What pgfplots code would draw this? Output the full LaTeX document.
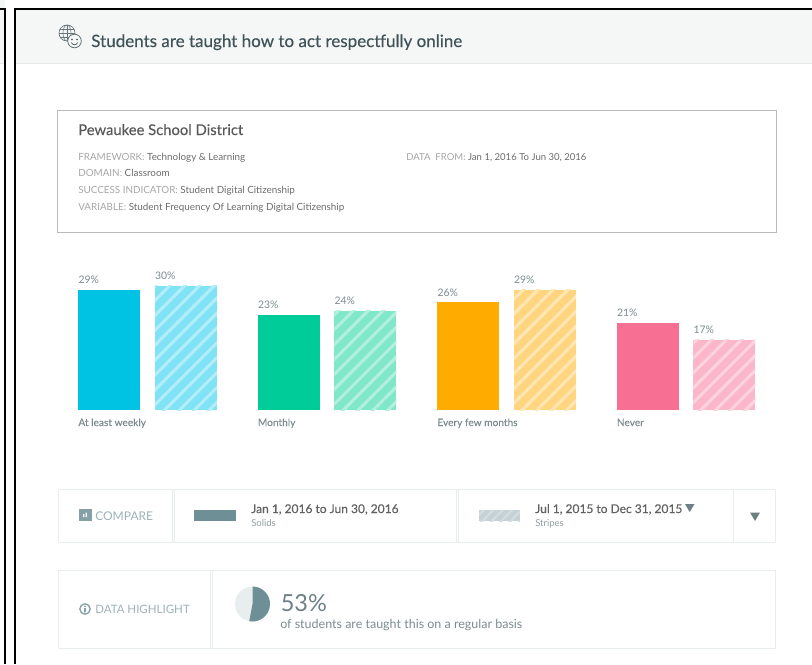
\documentclass[border=0pt]{standalone}
\usepackage{fontspec}
\setmainfont{Lato}
\usepackage{pgfplots}
\pgfplotsset{compat=1.18}
\usetikzlibrary{patterns.meta}

\definecolor{headbg}{HTML}{F4F7F6}
\definecolor{headline}{HTML}{E4E9E8}
\definecolor{frame}{HTML}{E8EEEE}
\definecolor{titlec}{HTML}{3F5257}
\definecolor{lab}{HTML}{7C8B8F}
\definecolor{slate}{HTML}{6F8F96}
\definecolor{pale}{HTML}{9DB2B6}
\definecolor{tri}{HTML}{6E8085}
\definecolor{cyanS}{HTML}{00C3E3}
\definecolor{cyanA}{HTML}{7FE2F5}
\definecolor{cyanB}{HTML}{B2EEF9}
\definecolor{greenS}{HTML}{00CC99}
\definecolor{greenA}{HTML}{80E8C9}
\definecolor{greenB}{HTML}{B2F0DD}
\definecolor{orangeS}{HTML}{FFAB00}
\definecolor{orangeA}{HTML}{FFD67F}
\definecolor{orangeB}{HTML}{FFE6B2}
\definecolor{pinkS}{HTML}{F76F93}
\definecolor{pinkA}{HTML}{FBB6C9}
\definecolor{pinkB}{HTML}{FDD3DF}

\newfontfamily\medfont[FakeBold=0.25]{Lato}

% text at pixel position: x, baseline y, size in px, colour, text
\newcommand{\txt}[5]{\pgfmathsetmacro{\fs}{#3*0.75}\node[anchor=base west,inner sep=0pt,text=#4,font=\fontsize{\fs pt}{\fs pt}\selectfont] at (#1,#2) {#5};}

\pgfplotsset{
  solidbar/.style={fill=#1,draw=none,/pgf/bar shift=-28.5pt},
  stripebar/.style 2 args={fill=#1,draw=none,/pgf/bar shift=28.9pt,
    postaction={pattern={Lines[angle=45,distance=7.9pt,line width=2.3pt]},pattern color=#2}},
}

\begin{document}
\begin{tikzpicture}
\begin{scope}[x=0.75pt,y=-0.75pt]
\path[use as bounding box] (0,0) rectangle (812,664);
% page chrome
\fill[headbg] (0,0) rectangle (5,63);
\fill[headbg] (15,9) rectangle (812,63);
\draw[headline,line width=0.75pt] (0,63.5) -- (5,63.5);
\draw[headline,line width=0.75pt] (15,63.5) -- (812,63.5);
\draw[black,line width=1.5pt] (0,9) -- (5,9) -- (5,664);
\draw[black,line width=1.5pt] (812,9) -- (15,9) -- (15,664);
% header icon
\draw[titlec!80,line width=0.5pt] (67,33) circle (8);
\draw[titlec!80,line width=0.4pt] (67,25) -- (67,41) (59,33) -- (75,33) (60,29) -- (74,29) (60,37) -- (74,37);
\draw[titlec!80,line width=0.4pt] (67,33) ellipse (4 and 8);
\draw[titlec!80,line width=0.6pt,fill=headbg] (74.5,41) circle (6.8);
\fill[titlec] (72,39.5) circle (0.8) (77,39.5) circle (0.8);
\draw[titlec,line width=0.5pt] (71.3,42.5) .. controls (73,45.5) and (76,45.5) .. (77.7,42.5);
\txt{91}{47}{17}{titlec}{\medfont Students are taught how to act respectfully online}
% info box
\draw[black!27,line width=0.75pt] (57.5,110.5) rectangle (776.5,232.5);
\txt{78}{135}{14.8}{black!65}{\medfont Pewaukee School District}
\txt{78}{160}{9.85}{black!35}{FRAMEWORK: \textcolor{black!58}{Technology \& Learning}}
\txt{78}{176.5}{9.85}{black!35}{DOMAIN: \textcolor{black!58}{Classroom}}
\txt{78}{193}{9.85}{black!35}{SUCCESS INDICATOR: \textcolor{black!58}{Student Digital Citizenship}}
\txt{78}{210}{9.85}{black!35}{VARIABLE: \textcolor{black!58}{Student Frequency Of Learning Digital Citizenship}}
\txt{406}{160}{9.55}{black!35}{DATA\ \ FROM: \textcolor{black!58}{Jan 1, 2016 To Jun 30, 2016}}
% compare strip
\draw[frame,line width=0.9pt] (58.5,489.5) rectangle (775.5,542.5);
\draw[frame,line width=0.9pt] (172.5,489.5) -- (172.5,542.5) (174.5,489.5) -- (174.5,542.5)
  (456.5,489.5) -- (456.5,542.5) (458.5,489.5) -- (458.5,542.5) (733.5,489.5) -- (733.5,542.5);
\fill[slate!85] (79,509) rectangle (91.5,521);
\fill[white] (83,517) rectangle (84.3,514) (85.5,517) rectangle (86.8,512.5);
\txt{95}{520}{12}{pale}{COMPARE}
\fill[slate] (194,510) rectangle (236,521);
\txt{251}{513}{12}{black!62}{\medfont Jan 1, 2016 to Jun 30, 2016}
\txt{251}{526}{9.5}{lab!85}{Solids}
\fill[slate!40,postaction={pattern={Lines[angle=45,distance=5pt,line width=1.6pt]},pattern color=white!70!slate}] (479,510) rectangle (520,521);
\txt{535}{513}{12}{black!62}{\medfont Jul 1, 2015 to Dec 31, 2015}
\txt{535}{526}{9.5}{lab!85}{Stripes}
\fill[tri] (685,504) -- (694.5,504) -- (689.7,512) -- cycle;
\fill[tri] (750,512.5) -- (760,512.5) -- (755,521) -- cycle;
% data highlight strip
\draw[frame,line width=0.9pt] (58.5,570.5) rectangle (775.5,648.5);
\draw[frame,line width=0.9pt] (210.5,570.5) -- (210.5,648.5) (212.5,570.5) -- (212.5,648.5);
\draw[slate!85,line width=1pt] (85,609) circle (5.2);
\fill[slate!85] (84.2,605.8) rectangle (85.8,607.2) (84.2,608.2) rectangle (85.8,612.4);
\txt{95}{613}{11.5}{pale}{DATA HIGHLIGHT}
\fill[frame] (252.5,604) circle (17.5);
\fill[slate] (252.5,604) -- (252.5,586.5) arc[start angle=-90,delta angle=190.8,radius=17.5] -- cycle;
\txt{280.5}{611}{23.5}{tri}{53\%}
\txt{280}{628.5}{12.5}{lab}{of students are taught this on a regular basis}
\end{scope}

\begin{axis}[
  at={(43.1pt,-307.5pt)},anchor=south west,
  scale only axis,
  width=538.5pt,height=108.7pt,
  xmin=-0.5,xmax=3.5,
  ymin=0,ymax=35,
  ybar,
  bar width=46.5pt,
  axis line style={draw=none},
  major tick length=0pt,
  ytick=\empty,
  xtick={0,1,2,3},
  xticklabels={At least weekly,Monthly,Every few months,Never},
  xticklabel style={anchor=base west,inner sep=0pt,xshift=-51.8pt,yshift=-12pt,text=lab,font=\fontsize{7.6pt}{7.6pt}\selectfont\medfont},
  nodes near coords={\pgfmathprintnumber[assume math mode=true]{\pgfplotspointmeta}\%},
  nodes near coords style={anchor=base west,inner sep=0pt,xshift=-23.2pt,yshift=4.6pt,text=lab,font=\fontsize{7.8pt}{7.8pt}\selectfont},
]
\addplot[solidbar=cyanS] coordinates {(0,29)};
\addplot[stripebar={cyanA}{cyanB}] coordinates {(0,30)};
\addplot[solidbar=greenS] coordinates {(1,23)};
\addplot[stripebar={greenA}{greenB}] coordinates {(1,24)};
\addplot[solidbar=orangeS] coordinates {(2,26)};
\addplot[stripebar={orangeA}{orangeB}] coordinates {(2,29)};
\addplot[solidbar=pinkS] coordinates {(3,21)};
\addplot[stripebar={pinkA}{pinkB}] coordinates {(3,17)};
\end{axis}
\end{tikzpicture}
\end{document}
